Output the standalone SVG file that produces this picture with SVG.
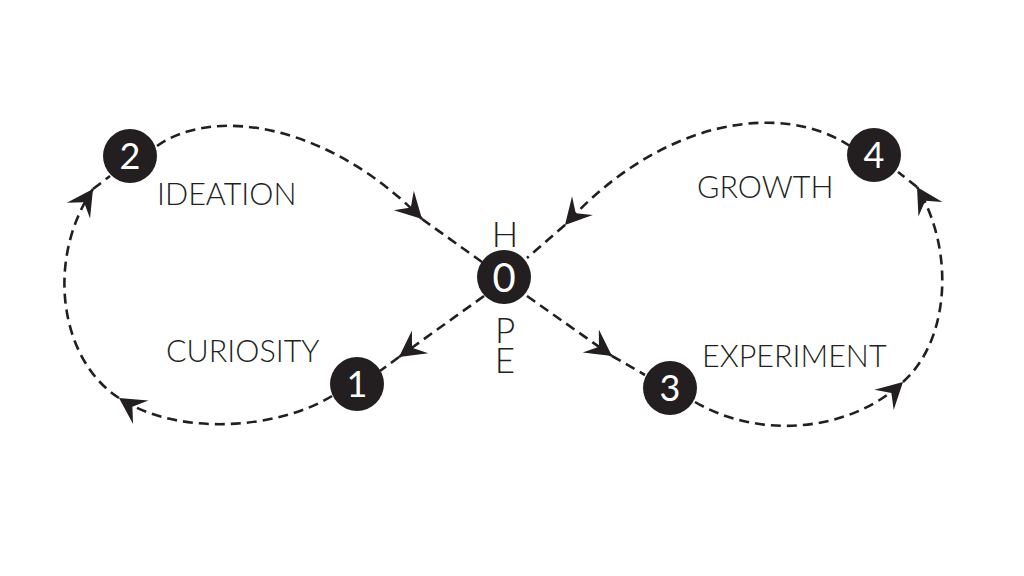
<svg xmlns="http://www.w3.org/2000/svg" width="1024" height="576" viewBox="0 0 1024 576">
<style>
.c{fill:#231f20}
.n{fill:#fff;font-family:Lato,"Open Sans",sans-serif;font-size:36px;text-anchor:middle}
.l{fill:#231f20;font-family:Lato,"Open Sans",sans-serif;font-weight:300;font-size:30.5px}
.h{fill:#231f20;font-family:Lato,"Open Sans",sans-serif;font-weight:300;font-size:35px;text-anchor:middle}
.v{fill:#231f20;font-family:Lato,"Open Sans",sans-serif;font-weight:300;font-size:35px;writing-mode:vertical-rl;text-orientation:upright;letter-spacing:-12px}
.d{fill:none;stroke:#231f20;stroke-width:2.6;stroke-dasharray:10 6}
.a{marker-end:url(#ar)}
</style>
<defs>
<marker id="ar" viewBox="-28 -15 30 30" markerWidth="30" markerHeight="30" refX="0" refY="0" orient="auto" markerUnits="userSpaceOnUse">
<path d="M0,0 L-26,-14 L-16,0 L-26,14 Z" fill="#231f20"/>
</marker>
</defs>
<rect width="1024" height="576" fill="#fff"/>
<g id="connectors">
<path class="d a" d="M157,146 C215,105 330,125 422,219"/>
<path class="d" d="M422,219 L482,262"/>
<path class="d a" d="M484,296 L399,357"/>
<path class="d" d="M399,357 L380,371"/>
<path class="d a" d="M332,396 C280,428 180,438 119,398"/>
<path class="d a" d="M119,398 C60,360 45,260 93,189"/>
<path class="d" d="M93,189 L110,176"/>
<path class="d a" d="M527,296 L612,356"/>
<path class="d" d="M612,356 L645,375"/>
<path class="d a" d="M695,402 C760,440 850,432 903,382"/>
<path class="d a" d="M903,382 C950,340 955,250 917,187"/>
<path class="d" d="M917,187 L898,172"/>
<path class="d a" d="M850,146 C780,100 660,120 565,225"/>
<path class="d" d="M565,225 L527,258"/>
</g>
<g id="node0">
<circle class="c" cx="504" cy="277" r="27"/>
<text class="n" x="504" y="292" style="font-size:40px">0</text>
<text class="h" x="505" y="247">H</text>
<text class="v" x="505" y="308">PE</text>
</g>
<g id="node1">
<circle class="c" cx="357" cy="384" r="27"/>
<text class="n" x="357" y="397">1</text>
<text class="l" x="166" y="362">CURIOSITY</text>
</g>
<g id="node2">
<circle class="c" cx="130" cy="156" r="27"/>
<text class="n" x="130" y="169">2</text>
<text class="l" x="157" y="205">IDEATION</text>
</g>
<g id="node3">
<circle class="c" cx="670" cy="388" r="27"/>
<text class="n" x="670" y="401">3</text>
<text class="l" x="702" y="367">EXPERIMENT</text>
</g>
<g id="node4">
<circle class="c" cx="874" cy="155" r="27"/>
<text class="n" x="874" y="168">4</text>
<text class="l" x="697" y="198">GROWTH</text>
</g>
</svg>
